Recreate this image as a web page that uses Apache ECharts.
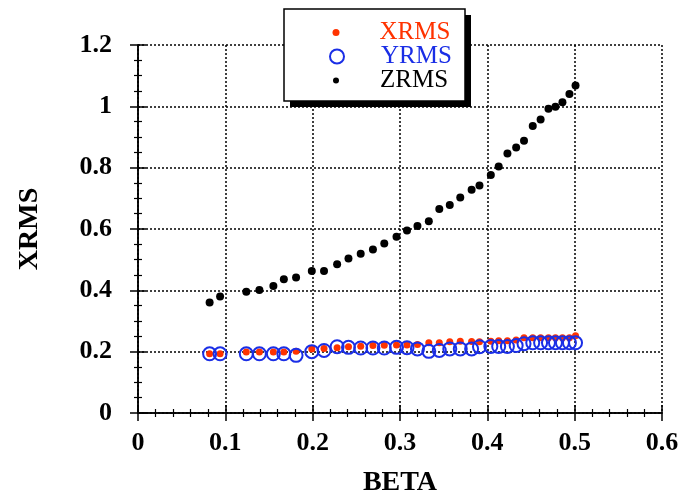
<!DOCTYPE html>
<html>
<head>
<meta charset="utf-8">
<script src="https://cdn.jsdelivr.net/npm/echarts@6/dist/echarts.min.js"></script>
<style>html,body{margin:0;padding:0;background:#fff}#c{width:679px;height:497px}</style>
</head>
<body>
<div id="c"></div>
<script>
const beta = [0.082,0.094,0.124,0.139,0.155,0.167,0.181,0.199,0.213,0.228,0.241,0.255,0.269,0.282,0.296,0.308,0.320,0.333,0.345,0.357,0.369,0.382,0.391,0.404,0.413,0.423,0.433,0.442,0.452,0.461,0.470,0.478,0.486,0.494,0.501];
const xrms = [0.193,0.193,0.199,0.199,0.199,0.199,0.201,0.209,0.210,0.213,0.216,0.218,0.220,0.221,0.222,0.222,0.223,0.229,0.229,0.232,0.234,0.233,0.232,0.234,0.236,0.236,0.238,0.245,0.245,0.245,0.245,0.245,0.245,0.245,0.252];
const yrms = [0.193,0.193,0.193,0.193,0.193,0.193,0.188,0.200,0.204,0.216,0.214,0.212,0.212,0.212,0.214,0.213,0.209,0.201,0.204,0.209,0.209,0.209,0.216,0.217,0.217,0.217,0.220,0.226,0.229,0.229,0.229,0.229,0.229,0.229,0.229];
const zrms = [0.360,0.380,0.395,0.401,0.414,0.436,0.442,0.463,0.463,0.485,0.504,0.519,0.533,0.553,0.575,0.595,0.610,0.625,0.665,0.678,0.703,0.728,0.742,0.776,0.804,0.846,0.866,0.888,0.936,0.957,0.992,0.999,1.013,1.040,1.068];
const xTicks = {min:0, max:0.6, interval:0.1};
const yTicks = {min:0, max:1.2, interval:0.2};
const names = ['XRMS','YRMS','ZRMS'];
const colors = ['#ff3300','#1a2ee6','#000000'];

const font = "'Liberation Serif','Times New Roman',serif";
const pair = (a) => beta.map((b,i)=>[b,a[i]]);
const fmt = v => String(+v.toFixed(1));

function axisBase(extra){
  return Object.assign({
    type:'value',
    axisLine:{show:true,lineStyle:{color:'#000',width:1.5}},
    axisTick:{show:true,inside:true,length:8,lineStyle:{color:'#000',width:1.5}},
    minorTick:{show:true,splitNumber:5,length:4,lineStyle:{color:'#000',width:1.2}},
    splitLine:{show:false},
    axisLabel:{show:false}
  }, extra);
}

const markX = 336;
function legendItem(i, size, top, icon, itemStyle, shift){
  const left = markX - size/2;
  return {z:60, data:[{name:names[i], icon:icon, itemStyle:itemStyle, textStyle:{color:colors[i]}}],
    left:left, top:top, padding:0, itemWidth:size, itemHeight:size,
    textStyle:{fontFamily:font,fontSize:25,lineHeight:24,padding:[0,0,0,shift]}, selectedMode:false};
}

const chart = echarts.init(document.getElementById('c'));
chart.setOption({
  animation:false,
  backgroundColor:'#fff',
  grid:{left:138,right:17,top:45,bottom:84,outerBoundsMode:'none',containLabel:false},
  xAxis:[
    axisBase(Object.assign({}, xTicks, {
      position:'bottom',
      name:'BETA', nameLocation:'middle', nameGap:56,
      nameTextStyle:{fontFamily:font,fontWeight:'bold',fontSize:28,color:'#000'},
      splitLine:{show:true,lineStyle:{color:'#000',width:1.5,type:[2,2]}},
      axisLabel:{show:true,margin:17,fontFamily:font,fontWeight:'bold',fontSize:26,color:'#000',formatter:fmt}
    })),
    axisBase(Object.assign({}, xTicks, {position:'top'}))
  ],
  yAxis:[
    axisBase(Object.assign({}, yTicks, {
      position:'left',
      minorTick:{show:true,splitNumber:4,length:4,lineStyle:{color:'#000',width:1.2}},
      name:'XRMS', nameLocation:'middle', nameGap:94, nameRotate:90,
      nameTextStyle:{fontFamily:font,fontWeight:'bold',fontSize:28,color:'#000'},
      splitLine:{show:true,lineStyle:{color:'#000',width:1.5,type:[2,2]}},
      axisLabel:{show:true,margin:26,fontFamily:font,fontWeight:'bold',fontSize:26,color:'#000',formatter:fmt}
    })),
    axisBase(Object.assign({}, yTicks, {position:'right',
      minorTick:{show:true,splitNumber:4,length:4,lineStyle:{color:'#000',width:1.2}}}))
  ],
  graphic:[
    {type:'rect', z:50, silent:true, shape:{x:290,y:15,width:181,height:92}, style:{fill:'#000'}},
    {type:'rect', z:51, silent:true, shape:{x:284,y:9,width:181,height:92}, style:{fill:'#fff',stroke:'#000',lineWidth:1.5}}
  ],
  legend:[
    legendItem(0, 7, 20, 'circle', {color:colors[0]}, 35),
    legendItem(1, 14, 44, 'circle', {color:'rgba(0,0,0,0)',borderColor:colors[1],borderWidth:2}, 32),
    legendItem(2, 6, 68, 'circle', {color:colors[2]}, 36)
  ],
  series:[
    {name:'ZRMS',type:'scatter',symbol:'circle',symbolSize:8,itemStyle:{color:colors[2],opacity:1},data:pair(zrms),z:3},
    {name:'XRMS',type:'scatter',symbol:'circle',symbolSize:7,itemStyle:{color:colors[0],opacity:1},data:pair(xrms),z:3},
    {name:'YRMS',type:'scatter',symbol:'circle',symbolSize:13,itemStyle:{color:'rgba(0,0,0,0)',borderColor:colors[1],borderWidth:2,opacity:1},data:pair(yrms),z:4}
  ]
});
</script>
</body>
</html>
